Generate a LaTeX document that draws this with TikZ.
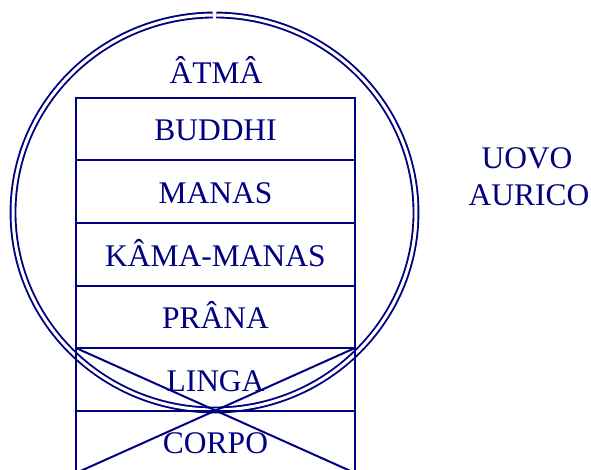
\documentclass[tikz,border=0pt]{standalone}
\usepackage{fontspec}
\setmainfont{Liberation Serif}
\definecolor{navy}{RGB}{0,0,128}
\begin{document}
\begin{tikzpicture}[x=1pt,y=-1pt,
  layer/.style={draw=navy, line width=2pt, minimum width=279pt, minimum height=62.5pt,
    inner sep=0pt, outer sep=0pt, text=navy, font=\fontsize{31.5}{34}\selectfont,
    text height=24pt, text depth=0.5pt},
  lbl/.style={text=navy, font=\fontsize{31.5}{37}\selectfont, inner sep=0pt},
  egg/.style={draw=navy, line width=1.9pt, double=white, double distance=3pt}]
\useasboundingbox (0,0) rectangle (591,470);
\clip (0,0) rectangle (591,470);
% aura egg
\coordinate (c) at (214.5,212.5);
\draw[egg] (c) ++(-89.5:201.5 and 197.5) arc[start angle=-89.5, end angle=269.5, x radius=201.5, y radius=197.5];
% layers
\node[layer, anchor=north west] (buddhi) at (76,98) {BUDDHI};
\node[layer, anchor=north] (manas) at (buddhi.south) {MANAS};
\node[layer, anchor=north] (kama) at (manas.south) {KÂMA-MANAS};
\node[layer, anchor=north] (prana) at (kama.south) {PRÂNA};
\node[layer, anchor=north] (linga) at (prana.south) {LINGA};
\node[layer, anchor=north] (corpo) at (linga.south) {CORPO};
\draw[navy, line width=2pt] (linga.north west) -- (corpo.south east);
\draw[navy, line width=2pt] (linga.north east) -- (corpo.south west);
% labels
\node[lbl, anchor=base] (atma) at (216,84) {ÂTMÂ};
\node[lbl, anchor=base] (uovo) at (527,169) {UOVO};
\node[lbl, anchor=base] (aurico) at (529,206) {AURICO};
\end{tikzpicture}
\end{document}
